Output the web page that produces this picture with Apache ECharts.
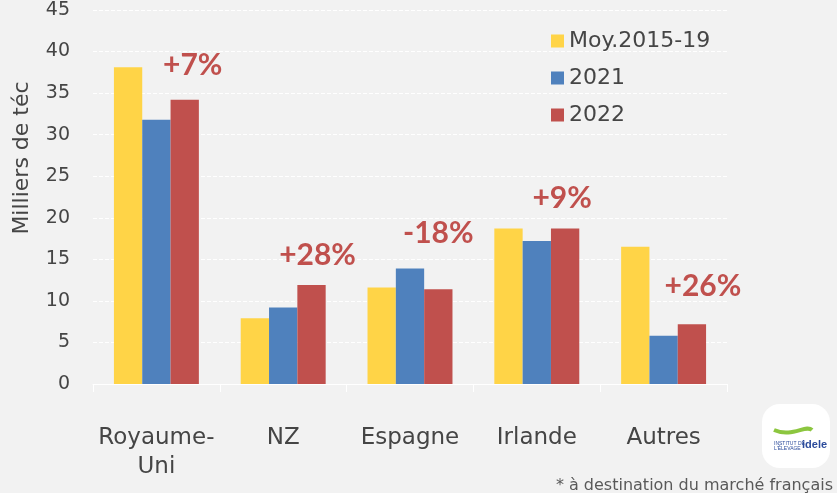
<!DOCTYPE html>
<html>
<head>
<meta charset="utf-8">
<script src="https://cdn.jsdelivr.net/npm/echarts@6/dist/echarts.min.js"></script>
<style>
  html, body { margin: 0; padding: 0; background: #f2f2f2; }
  #chart { width: 837px; height: 493px; }
</style>
</head>
<body>
<div id="chart"></div>
<script>
// données (milliers de téc)
var categories = ['Royaume-\nUni', 'NZ', 'Espagne', 'Irlande', 'Autres']
var seriesNames = ['Moy.2015-19', '2021', '2022']
var moyValues = [38.1, 7.9, 11.6, 18.7, 16.5]
var values2021 = [31.8, 9.2, 13.9, 17.2, 5.8]
var values2022 = [34.2, 11.9, 11.4, 18.7, 7.2]
var variations = ['+7%', '+28%', '-18%', '+9%', '+26%']
var yTicks = { min: 0, max: 45, interval: 5 }

// décalage des étiquettes de variation
var labelOffsets = [[8, -14], [6, -10], [0, -36], [-3, -10], [11, -18]]

var textColor = '#454545'
var font = '"DejaVu Sans"'

var myChart = echarts.init(document.getElementById('chart'))

var redData = values2022.map(function (v, i) {
    return {
        value: v,
        label: {
            show: true,
            position: 'top',
            formatter: variations[i],
            offset: labelOffsets[i],
            color: '#c0504d',
            fontSize: 30,
            fontWeight: 'bold',
            fontFamily: 'Lato'
        }
    }
})

var option = {
    backgroundColor: '#f2f2f2',
    animation: false,
    color: ['#ffd447', '#4f81bd', '#c0504d'],
    grid: { left: 93, right: 110, top: 10, bottom: 109 },
    legend: {
        data: seriesNames,
        orient: 'vertical',
        left: 546,
        top: 25,
        itemWidth: 13,
        itemHeight: 13,
        itemGap: 15,
        icon: 'rect',
        textStyle: { color: textColor, fontSize: 22, fontFamily: font }
    },
    xAxis: {
        type: 'category',
        data: categories,
        axisLine: { lineStyle: { color: '#ffffff', width: 1 } },
        axisTick: { show: true, length: 8, lineStyle: { color: '#ffffff' } },
        axisLabel: {
            interval: 0,
            color: textColor,
            fontSize: 23,
            fontFamily: font,
            lineHeight: 29,
            margin: 40
        }
    },
    yAxis: {
        type: 'value',
        min: yTicks.min,
        max: yTicks.max,
        interval: yTicks.interval,
        axisLine: { show: false },
        axisTick: { show: false },
        axisLabel: { color: textColor, fontSize: 19, fontFamily: font, margin: 23 },
        splitLine: { lineStyle: { color: '#ffffff', type: 'dashed', width: 1 } }
    },
    series: [
        { name: seriesNames[0], type: 'bar', data: moyValues, barGap: '0%', barCategoryGap: '33%' },
        { name: seriesNames[1], type: 'bar', data: values2021, barGap: '0%', barCategoryGap: '33%' },
        { name: seriesNames[2], type: 'bar', data: redData, barGap: '0%', barCategoryGap: '33%' }
    ],
    graphic: [
        {
            type: 'text',
            x: 22, y: 158,
            rotation: Math.PI / 2,
            style: {
                text: 'Milliers de téc',
                fill: textColor,
                font: '22px ' + font,
                textAlign: 'center',
                textVerticalAlign: 'middle'
            }
        },
        {
            type: 'text',
            right: 4, top: 478,
            style: {
                text: '* à destination du marché français',
                fill: '#595959',
                font: '16px ' + font
            }
        },
        // logo idele (approximation)
        {
            type: 'group',
            left: 762, top: 404,
            children: [
                { type: 'rect', shape: { x: 0, y: 0, width: 68, height: 64, r: 18 }, style: { fill: '#ffffff' } },
                { type: 'bezierCurve', shape: { x1: 12, y1: 26, x2: 50, y2: 26, cpx1: 30, cpy1: 34, cpx2: 44, cpy2: 20 },
                  style: { stroke: '#8cc63f', lineWidth: 4, fill: null } },
                { type: 'text', x: 12, y: 37, style: { text: 'INSTITUT DE\nL\'ÉLEVAGE', fill: '#2b4b9b', font: '5px sans-serif' } },
                { type: 'text', x: 40, y: 35, style: { text: 'idele', fill: '#2b4b9b', font: 'bold 11px sans-serif' } }
            ]
        }
    ]
}

myChart.setOption(option)
</script>
</body>
</html>
